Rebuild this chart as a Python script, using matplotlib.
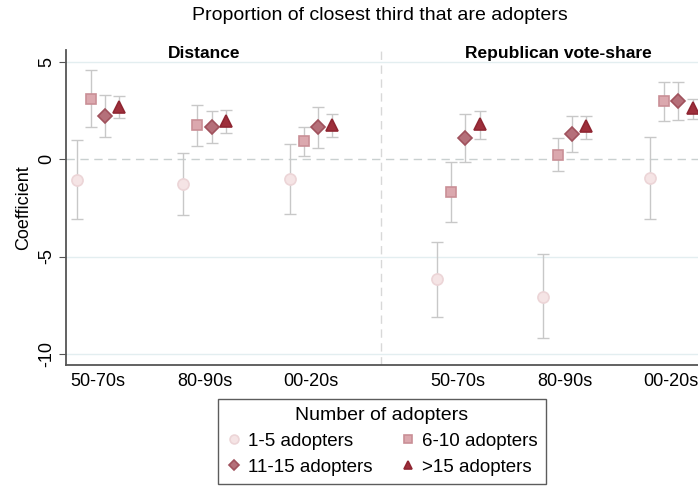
import numpy as np
import matplotlib.pyplot as plt

plt.rcParams['font.family'] = ['Liberation Sans', 'DejaVu Sans']

# periods, two panels side by side
periods = ['50-70s', '80-90s', '00-20s']
panels = ['Distance', 'Republican vote-share']
groups = ['1-5 adopters', '6-10 adopters', '11-15 adopters', '>15 adopters']

# coefficients per group: Distance (3 periods) then Republican (3 periods)
coef_1_5 = [-1.05, -1.29, -1.03, -6.16, -7.05, -0.99]
lo_1_5 = [-3.05, -2.88, -2.83, -8.08, -9.19, -3.10]
hi_1_5 = [0.98, 0.33, 0.77, -4.24, -4.85, 1.11]

coef_6_10 = [3.09, 1.72, 0.94, -1.68, 0.22, 2.95]
lo_6_10 = [1.63, 0.67, 0.17, -3.22, -0.63, 1.97]
hi_6_10 = [4.58, 2.78, 1.66, -0.17, 1.10, 3.95]

coef_11_15 = [2.21, 1.63, 1.63, 1.10, 1.27, 3.00]
lo_11_15 = [1.15, 0.84, 0.58, -0.14, 0.34, 2.01]
hi_11_15 = [3.29, 2.47, 2.69, 2.32, 2.21, 3.96]

coef_15 = [2.69, 1.97, 1.75, 1.80, 1.70, 2.61]
lo_15 = [2.08, 1.32, 1.11, 1.05, 1.05, 2.06]
hi_15 = [3.21, 2.49, 2.30, 2.47, 2.20, 3.07]

centers = np.array([0, 1, 2, 3.38, 4.38, 5.38])
offsets = [-0.2, -0.067, 0.067, 0.2]
markers = ['o', 's', 'D', '^']
faces = ['#f5e4e5', '#dba8ae', '#b5707a', '#9e2f3b']
edges = ['#ecd5d7', '#c98f96', '#a0525d', '#8f2632']
sizes = [8, 7.5, 7, 8]

fig = plt.figure(figsize=(6.98, 4.86), dpi=100)
ax = fig.add_axes([66/698, 1-365/486, 632/698, 315/486])

data = [(coef_1_5, lo_1_5, hi_1_5), (coef_6_10, lo_6_10, hi_6_10),
        (coef_11_15, lo_11_15, hi_11_15), (coef_15, lo_15, hi_15)]

ax.axhline(0, color='#c9d0d0', lw=1, ls=(0, (6, 4)), zorder=1)
for yv in [5, -5, -10]:
    ax.axhline(yv, color='#e3eef0', lw=1, zorder=0)
ax.axvline(2.66, color='#d8d8d8', lw=1, ls=(0, (6, 4)), zorder=1)

handles = []
for i, (c, lo, hi) in enumerate(data):
    c = np.array(c)
    x = centers + offsets[i]
    yerr = [c - np.array(lo), np.array(hi) - c]
    ax.errorbar(x, c, yerr=yerr, fmt='none', ecolor='#c8c8c8', elinewidth=1,
                capsize=4, capthick=1, zorder=2)
    h, = ax.plot(x, c, ls='none', marker=markers[i], ms=sizes[i],
                 mfc=faces[i], mec=edges[i], mew=1.2, zorder=3, label=groups[i])
    handles.append(h)

ax.set_xlim(-0.30, 5.63)
ax.set_ylim(-10.56, 5.59)
ax.set_xticks(centers)
ax.set_xticklabels(periods * 2, fontsize=13)
ax.tick_params(axis='x', length=0, pad=6)
ax.set_yticks([5, 0, -5, -10])
ax.set_yticklabels(['5', '0', '-5', '-10'], rotation=90, va='center', fontsize=13)
ax.tick_params(axis='y', length=5, color='#555555', pad=3)
ax.set_ylabel('Coefficient', fontsize=13, labelpad=4)

for s in ['top', 'right']:
    ax.spines[s].set_visible(False)
for s in ['left', 'bottom']:
    ax.spines[s].set_color('#555555')
    ax.spines[s].set_linewidth(1.3)

ax.text(1, 5.41, panels[0], ha='center', va='center', fontsize=12.5, fontweight='bold')
ax.text(4.32, 5.41, panels[1], ha='center', va='center', fontsize=12.5, fontweight='bold')

fig.text(0.544, 0.969, 'Proportion of closest third that are adopters',
         ha='center', va='center', fontsize=14)

# row-major order like the original legend
leg_handles = [handles[0], handles[2], handles[1], handles[3]]
leg = fig.legend(handles=leg_handles, loc='lower center', bbox_to_anchor=(0.547, 0.004),
                 ncol=2, title='Number of adopters', fontsize=13.5, title_fontsize=14,
                 frameon=True, fancybox=False, edgecolor='#333333',
                 handletextpad=0.35, columnspacing=1.5, labelspacing=0.45,
                 borderpad=0.45, handlelength=0.8, markerscale=0.8,
                 borderaxespad=0)
leg.get_frame().set_linewidth(1)

fig.savefig('out.png', dpi=100)
